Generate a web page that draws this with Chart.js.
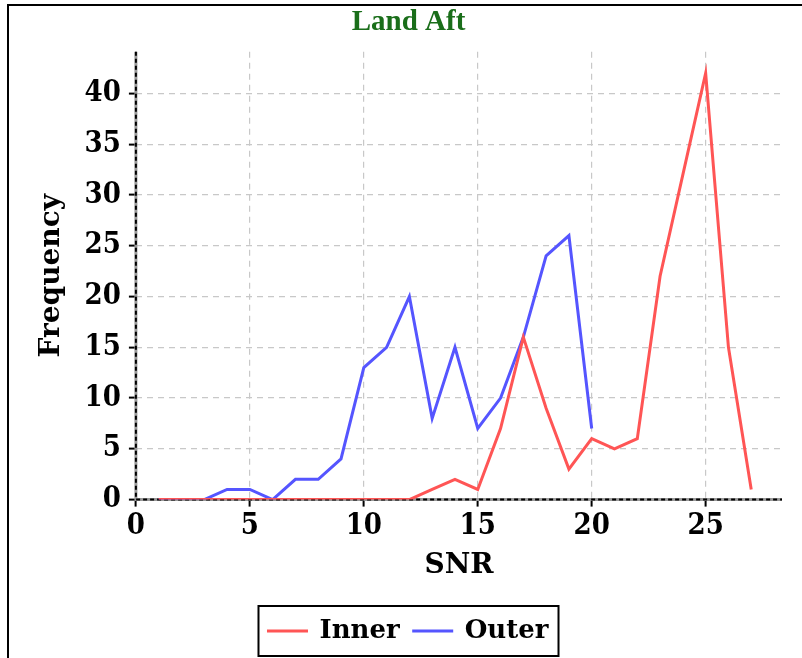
<!DOCTYPE html>
<html>
<head>
<meta charset="utf-8">
<script src="https://cdn.jsdelivr.net/npm/chart.js@4.4.0/dist/chart.umd.min.js"></script>
<style>
  html, body { margin: 0; padding: 0; background: #fff; overflow: hidden; }
  #frame { position: absolute; left: 7px; top: 4px; width: 900px; height: 800px;
           border-left: 2px solid #000; border-top: 2px solid #000; }
  #wrap { position: absolute; left: 10px; top: 0; width: 792px; height: 658px; }
</style>
</head>
<body>
<div id="frame"></div>
<div id="wrap"><canvas id="mycanvas"></canvas></div>
<script>
// SNR bins
const snrInner = [1, 2, 3, 4, 5, 6, 7, 8, 9, 10, 11, 12, 13, 14, 15, 16, 17, 18, 19, 20, 21, 22, 23, 24, 25, 26, 27];
const freqInner = [0, 0, 0, 0, 0, 0, 0, 0, 0, 0, 0, 0, 1, 2, 1, 7, 16, 9, 3, 6, 5, 6, 22, 32, 42, 15, 1];
const snrOuter = [1, 2, 3, 4, 5, 6, 7, 8, 9, 10, 11, 12, 13, 14, 15, 16, 17, 18, 19, 20];
const freqOuter = [0, 0, 0, 1, 1, 0, 2, 2, 4, 13, 15, 20, 8, 15, 7, 10, 16, 24, 26, 7];
const xTicks = [0, 5, 10, 15, 20, 25];
const yTicks = [0, 5, 10, 15, 20, 25, 30, 35, 40];

const serif = "'DejaVu Serif', serif";
const tickFont = "'DejaVu Serif Condensed', 'DejaVu Serif', serif";

function toPoints(xs, ys) {
  return xs.map((x, i) => ({x: x, y: ys[i]}));
}

// axis lines (grey with black dashes) and a box around the legend
const extras = {
  id: 'extras',
  beforeDatasetsDraw(chart) {
    const {ctx, chartArea: a} = chart;
    ctx.save();
    ctx.beginPath();
    ctx.moveTo(a.left, a.top);
    ctx.lineTo(a.left, a.bottom);
    ctx.lineTo(a.right, a.bottom);
    ctx.strokeStyle = '#9a9a9a';
    ctx.lineWidth = 3;
    ctx.stroke();
    ctx.setLineDash([4, 3]);
    ctx.strokeStyle = '#000';
    ctx.lineWidth = 2;
    ctx.stroke();
    ctx.restore();
  },
  afterDraw(chart) {
    const boxes = chart.legend.legendHitBoxes;
    if (!boxes || !boxes.length) return;
    let l = Infinity, r = -Infinity, t = Infinity, b = -Infinity;
    boxes.forEach(h => {
      l = Math.min(l, h.left); r = Math.max(r, h.left + h.width);
      t = Math.min(t, h.top); b = Math.max(b, h.top + h.height);
    });
    const ctx = chart.ctx;
    ctx.save();
    ctx.strokeStyle = '#000';
    ctx.lineWidth = 2;
    ctx.strokeRect(l - 10, t - 12, r - l + 20, b - t + 24);
    ctx.restore();
  }
};

const data = {
  datasets: [
    {
      label: 'Inner',
      data: toPoints(snrInner, freqInner),
      borderColor: '#ff5555',
      backgroundColor: '#ff5555',
      borderWidth: 3,
      pointRadius: 0,
      tension: 0,
    },
    {
      label: 'Outer',
      data: toPoints(snrOuter, freqOuter),
      borderColor: '#5555ff',
      backgroundColor: '#5555ff',
      borderWidth: 3,
      pointRadius: 0,
      tension: 0,
    },
  ],
};

const gridOpts = {
  color: '#c8c8c8',
  lineWidth: 1.2,
  tickColor: '#000',
  tickLength: 7,
  tickWidth: 2,
};

let chartOptions = {
  responsive: true,
  maintainAspectRatio: false,
  animation: false,
  layout: { padding: { left: 25, right: 20, top: 0, bottom: 4 } },
  plugins: {
    title: {
      display: true,
      text: 'Land Aft',
      color: '#1a6e1a',
      font: { family: "'Liberation Serif', serif", size: 29, weight: 'bold' },
      padding: { top: 5, bottom: 12 },
    },
    legend: {
      position: 'bottom',
      labels: {
        color: '#000',
        boxWidth: 38,
        boxHeight: 0.01,
        padding: 14,
        font: { family: serif, size: 26, weight: 'bold' },
      },
    },
    tooltip: { enabled: false },
  },
  scales: {
    x: {
      type: 'linear',
      min: 0,
      max: 28.35,
      grid: gridOpts,
      border: { display: false, dash: [6, 5] },
      ticks: {
        stepSize: 5,
        includeBounds: false,
        color: '#000',
        padding: 2,
        font: { family: tickFont, size: 29, weight: 'bold' },
        callback: v => xTicks.includes(v) ? String(v) : '',
      },
      title: {
        display: true,
        text: 'SNR',
        color: '#000',
        font: { family: serif, size: 28, weight: 'bold' },
        padding: { top: 4, bottom: 21 },
      },
    },
    y: {
      min: 0,
      max: 44.1,
      grid: gridOpts,
      border: { display: false, dash: [6, 5] },
      ticks: {
        stepSize: 5,
        includeBounds: false,
        color: '#000',
        padding: 8,
        font: { family: tickFont, size: 29, weight: 'bold' },
        callback: v => yTicks.includes(v) ? String(v) : '',
      },
      title: {
        display: true,
        text: 'Frequency',
        color: '#000',
        font: { family: serif, size: 28, weight: 'bold' },
        padding: { top: 0, bottom: 8 },
      },
    },
  },
};

new Chart(document.getElementById('mycanvas'), {
  type: 'line',
  data: data,
  options: chartOptions,
  plugins: [extras],
});
</script>
</body>
</html>
